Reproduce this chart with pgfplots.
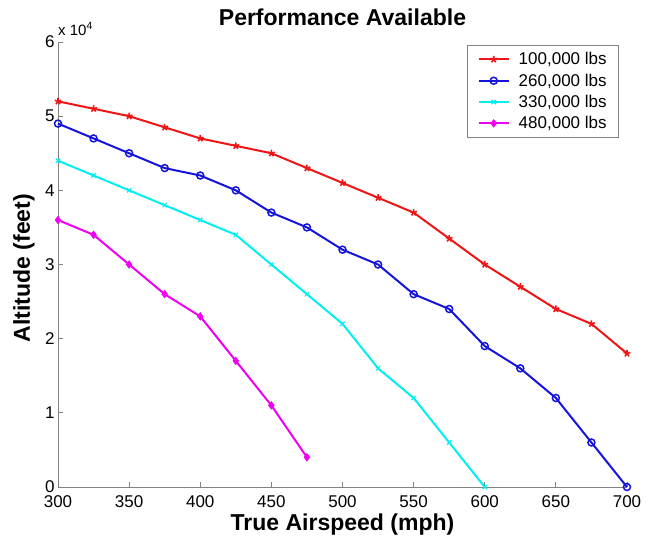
\documentclass[border=0pt]{standalone}
\usepackage{fontspec}
\setmainfont{Liberation Sans}
\usepackage{pgfplots}
\pgfplotsset{compat=1.18}

\definecolor{mred}{RGB}{240,20,20}
\definecolor{mblue}{RGB}{20,20,220}
\definecolor{mcyan}{RGB}{0,240,240}
\definecolor{mmagenta}{RGB}{240,0,240}
\definecolor{axgray}{RGB}{130,130,130}

\begin{document}
\begin{tikzpicture}
\begin{axis}[
    scale only axis,
    width=569pt, height=445pt,
    xmin=300, xmax=700, ymin=0, ymax=60000,
    xtick={300,350,...,700},
    ytick={0,10000,...,60000},
    yticklabels={0,1,2,3,4,5,6},
    scaled y ticks=false,
    axis lines*=left,
    axis line style={axgray, line width=0.8pt},
    tick style={axgray, line width=0.8pt},
    tick align=inside,
    major tick length=5pt,
    /pgf/number format/assume math mode=true,
    ticklabel style={font=\fontsize{17}{17}\selectfont},
    xticklabel style={yshift=-5pt},
    title={\bfseries Performance Available},
    title style={font=\fontsize{23}{23}\selectfont, at={(axis description cs:0.5,1)}, anchor=center, yshift=19pt},
    xlabel={\bfseries True Airspeed (mph)},
    xlabel style={font=\fontsize{23}{23}\selectfont, at={(axis description cs:0.5,0)}, anchor=center, yshift=-38pt},
    ylabel={\bfseries Altitude (feet)},
    ylabel style={font=\fontsize{23}{23}\selectfont, at={(axis description cs:-0.06,0.492)}, anchor=center},
    legend style={at={(axis description cs:0.986,0.993)}, anchor=north east, draw=axgray, line width=0.8pt, font=\fontsize{17}{17}\selectfont, row sep=3.5pt, inner ysep=5pt, inner xsep=10pt,
        /tikz/every odd column/.append style={column sep=7pt}},
    legend cell align=left,
    legend image code/.code={\draw[mark repeat=2,mark phase=2,#1] plot coordinates {(0pt,0pt) (15pt,0pt) (30pt,0pt)};},
    every axis plot/.append style={line width=2pt},
    clip=false,
]
\addplot[mred, mark=star, mark size=3.5pt, mark options={line width=1.6pt}] coordinates {
(300,52000) (325,51000) (350,50000) (375,48500) (400,47000) (425,46000)
(450,45000) (475,43000) (500,41000) (525,39000) (550,37000) (575,33500)
(600,30000) (625,27000) (650,24000) (675,22000) (700,18000)};
\addlegendentry{100,000 lbs}
\addplot[mblue, mark=o, mark size=3.5pt, mark options={line width=1.5pt}] coordinates {
(300,49000) (325,47000) (350,45000) (375,43000) (400,42000) (425,40000)
(450,37000) (475,35000) (500,32000) (525,30000) (550,26000) (575,24000)
(600,19000) (625,16000) (650,12000) (675,6000) (700,0)};
\addlegendentry{260,000 lbs}
\addplot[mcyan, mark=x, mark size=3pt, mark options={line width=1.2pt}] coordinates {
(300,44000) (325,42000) (350,40000) (375,38000) (400,36000) (425,34000)
(450,30000) (475,26000) (500,22000) (525,16000) (550,12000) (575,6000)
(600,0)};
\addlegendentry{330,000 lbs}
\addplot[mmagenta, mark=diamond*, mark size=3.5pt, mark options={line width=1pt}] coordinates {
(300,36000) (325,34000) (350,30000) (375,26000) (400,23000) (425,17000)
(450,11000) (475,4000)};
\addlegendentry{480,000 lbs}
\node[anchor=base west, font=\fontsize{15}{15}\selectfont, inner sep=0pt] at ([yshift=7pt]rel axis cs:0,1) {x 10\textsuperscript{4}};
\end{axis}
\pgfresetboundingbox
\path (-58pt,-53pt) rectangle (593pt,487pt);
\end{tikzpicture}
\end{document}
